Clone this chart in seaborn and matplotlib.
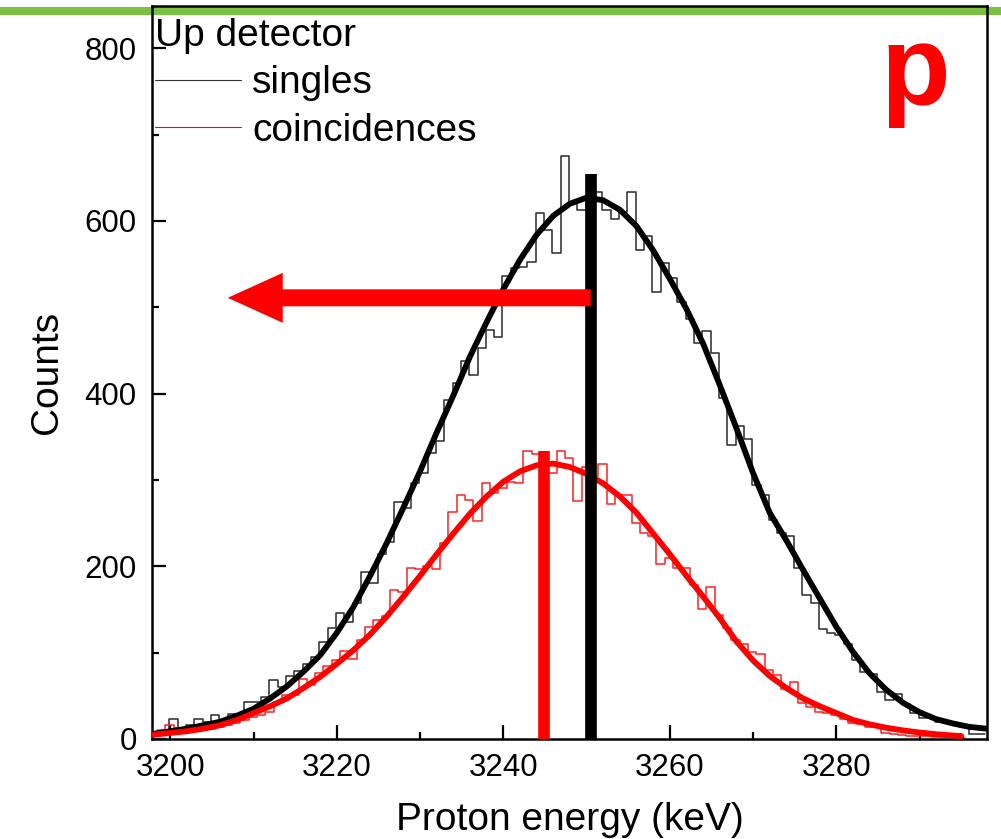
import numpy as np
import pandas as pd
import matplotlib
matplotlib.use("Agg")
import matplotlib.pyplot as plt
from matplotlib.lines import Line2D
from matplotlib.patches import Rectangle
import seaborn as sns

# ---------------- data ----------------
bin_width = 1.0
singles_start = 3197.9
singles_counts = [5, 8, 23, 12, 16, 23, 20, 28, 20, 29,
                  28, 43, 43, 49, 68, 60, 73, 79, 87, 95,
                  112, 129, 146, 136, 158, 194, 181, 214, 228, 275,
                  268, 297, 308, 331, 345, 393, 412, 438, 422, 453,
                  474, 466, 536, 545, 547, 553, 609, 589, 563, 675,
                  621, 613, 627, 633, 613, 602, 610, 634, 566, 583,
                  518, 551, 534, 506, 486, 459, 472, 447, 395, 341,
                  362, 348, 294, 283, 254, 239, 235, 198, 167, 158,
                  127, 123, 120, 110, 92, 78, 75, 55, 45, 52,
                  40, 30, 24, 25, 20, 19, 18, 14, 6, 6]

coinc_start = 3198.4
coinc_counts = [10, 16, 13, 9, 10, 11, 12, 14, 16, 19,
                22, 25, 28, 31, 43, 51, 51, 70, 63, 77,
                85, 92, 102, 93, 115, 130, 138, 142, 173, 170,
                198, 197, 200, 197, 227, 263, 283, 277, 253, 297,
                285, 291, 298, 296, 334, 330, 318, 308, 334, 325,
                276, 315, 305, 319, 272, 283, 283, 250, 239, 235,
                203, 210, 198, 198, 178, 150, 176, 144, 129, 115,
                110, 101, 98, 80, 74, 58, 66, 42, 37, 31,
                30, 28, 23, 19, 17, 14, 14, 7, 6, 5,
                4, 3, 3, 2, 2, 2, 1]

# fitted curves (values read every 2 keV)
singles_fit_x = [3198, 3200, 3202, 3204, 3206, 3208, 3210, 3212, 3214, 3216,
                 3218, 3220, 3222, 3224, 3226, 3228, 3230, 3232, 3234, 3236,
                 3238, 3240, 3242, 3244, 3246, 3248, 3250, 3252, 3254, 3256,
                 3258, 3260, 3262, 3264, 3266, 3268, 3270, 3272, 3274, 3276,
                 3278, 3280, 3282, 3284, 3286, 3288, 3290, 3292, 3294, 3296, 3298]
singles_fit_y = [6, 9, 12, 16, 20, 27, 35, 47, 61, 78,
                 97, 123, 153, 189, 227, 268, 310, 355, 398, 443,
                 483, 521, 555, 584, 606, 620, 627, 624, 613, 594,
                 566, 533, 498, 458, 410, 360, 308, 262, 230, 196,
                 163, 130, 101, 76, 57, 42, 31, 23, 18, 14, 12]

coinc_fit_x = [3198, 3200, 3202, 3204, 3206, 3208, 3210, 3212, 3214, 3216,
               3218, 3220, 3222, 3224, 3226, 3228, 3230, 3232, 3234, 3236,
               3238, 3240, 3242, 3244, 3246, 3248, 3250, 3252, 3254, 3256,
               3258, 3260, 3262, 3264, 3266, 3268, 3270, 3272, 3274, 3276,
               3278, 3280, 3282, 3284, 3286, 3288, 3290, 3292, 3294, 3295]
coinc_fit_y = [5, 7, 9, 12, 16, 22, 30, 38, 47, 59,
               72, 87, 103, 121, 142, 165, 189, 214, 238, 261,
               281, 298, 310, 317, 319, 315, 307, 296, 281, 262,
               238, 214, 189, 165, 140, 113, 91, 73, 59, 47,
               38, 30, 22, 17, 13, 10, 7.5, 5.5, 4, 3.5]

# centroid markers and shift arrow
centroid_singles = 3250.5
centroid_singles_top = 654
centroid_coinc = 3244.9
centroid_coinc_top = 334
arrow_y = 511
arrow_tip = 3206.9

x_ticks = [3200, 3220, 3240, 3260, 3280]
y_ticks = [0, 200, 400, 600, 800]
legend_title = "Up detector"
series_labels = ["singles", "coincidences"]
x_label = "Proton energy (keV)"
y_label = "Counts"
panel_tag = "p"

# ---------------- figure ----------------
sns.set_style("ticks")
plt.rcParams["font.family"] = ["Liberation Sans", "DejaVu Sans"]
plt.rcParams["text.color"] = "black"
plt.rcParams["axes.labelcolor"] = "black"
plt.rcParams["xtick.color"] = "black"
plt.rcParams["ytick.color"] = "black"

fig = plt.figure(figsize=(10.01, 8.39), dpi=100)
ax = fig.add_axes([152 / 1001, 100 / 839, 835 / 1001, 733 / 839])

s_edges = [singles_start + bin_width * i for i in range(len(singles_counts) + 1)]
c_edges = [coinc_start + bin_width * i for i in range(len(coinc_counts) + 1)]
df_s = pd.DataFrame({"E": [e + bin_width / 2 for e in s_edges[:-1]], "n": singles_counts})
df_c = pd.DataFrame({"E": [e + bin_width / 2 for e in c_edges[:-1]], "n": coinc_counts})

sns.histplot(data=df_s, x="E", weights="n", bins=s_edges, element="step",
             fill=False, color="#2a2a2a", linewidth=1.1, ax=ax, zorder=2)
sns.histplot(data=df_c, x="E", weights="n", bins=c_edges, element="step",
             fill=False, color="#ff2020", linewidth=1.1, ax=ax, zorder=2)

sns.lineplot(x=singles_fit_x, y=singles_fit_y, color="black", linewidth=4.2,
             ax=ax, zorder=3)
sns.lineplot(x=coinc_fit_x, y=coinc_fit_y, color="#ff0000", linewidth=4.2,
             ax=ax, zorder=3.1)

ax.vlines([centroid_singles], 0, [centroid_singles_top], color="black",
          linewidth=8.4, zorder=4, capstyle="butt")
ax.vlines([centroid_coinc], 0, [centroid_coinc_top], color="#ff0000",
          linewidth=8.4, zorder=4, capstyle="butt")

ax.annotate("", xy=(arrow_tip, arrow_y), xytext=(centroid_singles, arrow_y),
            arrowprops=dict(arrowstyle="simple,head_length=3.3,head_width=3.0,tail_width=1.02",
                            mutation_scale=12, color="#ff0000", lw=0,
                            shrinkA=0, shrinkB=0),
            zorder=5)

ax.set_xlim(3197.8, 3298.1)
ax.set_ylim(0, 849)
ax.set_xticks(x_ticks)
ax.set_yticks(y_ticks)
ax.set_xticks(np.arange(3210, 3300, 20), minor=True)
ax.set_yticks(np.arange(100, 900, 200), minor=True)
ax.tick_params(which="both", direction="in", top=False, right=False,
               width=1.6, colors="black", labelsize=22.5)
ax.tick_params(which="major", length=10)
ax.tick_params(which="minor", length=5)
ax.tick_params(axis="x", pad=10)
ax.tick_params(axis="y", pad=11)
for sp in ax.spines.values():
    sp.set_visible(True)
    sp.set_linewidth(1.8)
    sp.set_color("black")

ax.set_xlabel(x_label, fontsize=28, labelpad=14, color="black")
ax.set_ylabel(y_label, fontsize=28, labelpad=14, color="black")

handles = [Line2D([], [], color="#333333", linewidth=0.8),
           Line2D([], [], color="#ff0000", linewidth=0.8)]
leg = ax.legend(handles, series_labels, title=legend_title, loc="upper left",
                bbox_to_anchor=(0.0036, 0.984), frameon=False, fontsize=28,
                title_fontsize=28, handlelength=2.2, handletextpad=0.3,
                labelspacing=0.3, borderpad=0.0, borderaxespad=0.0,
                alignment="left")
for t in leg.get_texts():
    t.set_color("black")
leg.get_title().set_color("black")

ax.text(0.914, 0.866, panel_tag, transform=ax.transAxes, color="#ff0000",
        fontsize=82, fontweight="bold", ha="center", va="baseline")

# green rule across the top of the page
green = Rectangle((0, (839 - 15) / 839), 1, 8 / 839, transform=fig.transFigure,
                  facecolor="#7bc043", edgecolor="none", clip_on=False, zorder=2.4)
ax.add_artist(green)

fig.savefig("out.png", dpi=100)
